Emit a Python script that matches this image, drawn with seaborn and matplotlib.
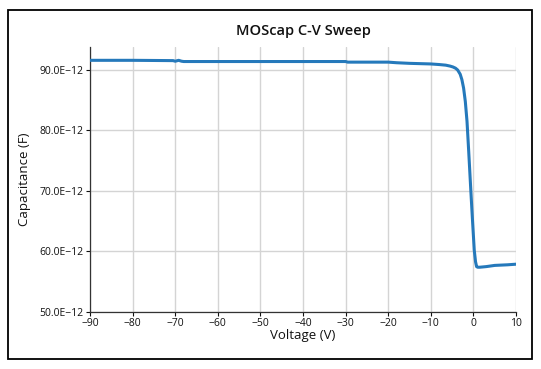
import matplotlib.pyplot as plt
import matplotlib.ticker as mticker
from matplotlib.patches import Rectangle
import pandas as pd
import seaborn as sns

# C-V sweep (capacitance in pF)
voltage = [-90, -80, -70.5, -70, -69.2, -68.5, -68, -60, -50, -40, -30, -29.5,
           -20, -18, -15, -10, -8, -6.5, -5.5, -4.8, -4.2, -3.7, -3.1, -2.7, -2.3,
           -1.9, -1.5, -1.1, -0.6, -0.2, 0.2, 0.5, 0.75, 1.0, 1.5, 3, 5, 8, 10]
cap_pf = [91.6, 91.6, 91.55, 91.45, 91.6, 91.45, 91.4, 91.4, 91.4, 91.4, 91.4, 91.3,
          91.3, 91.2, 91.1, 91.0, 90.9, 90.8, 90.65, 90.5, 90.3, 90.0, 89.3, 88.4, 87.0,
          84.8, 81.5, 76.5, 70.0, 65.0, 60.2, 58.3, 57.5, 57.4, 57.4, 57.5, 57.7, 57.8, 57.9]
x_ticks = list(range(-90, 11, 10))
y_ticks = [50e-12, 60e-12, 70e-12, 80e-12, 90e-12]

df = pd.DataFrame({'Voltage': voltage, 'Capacitance': [c * 1e-12 for c in cap_pf]})

sns.set_style('white')
plt.rcParams['font.family'] = ['Open Sans', 'DejaVu Sans']

fig = plt.figure(figsize=(5.41, 3.69), dpi=100)
ax = fig.add_axes([0.1664, 0.1545, 0.7874, 0.7181])

sns.lineplot(data=df, x='Voltage', y='Capacitance', ax=ax, color='#2579bb',
             linewidth=2.2, zorder=3)

ax.set_xlim(-90, 10)
ax.set_ylim(50e-12, 93.8e-12)
ax.set_xticks(x_ticks)
ax.set_yticks(y_ticks)
ax.xaxis.set_major_formatter(mticker.FuncFormatter(lambda v, p: f"{v:.0f}".replace('-', '\u2212')))
ax.yaxis.set_major_formatter(mticker.FuncFormatter(lambda v, p: f"{v*1e12:.1f}E\u221212"))
ax.grid(True, color='#d4d4d4', linewidth=1.0)
ax.tick_params(axis='both', labelsize=7.5, length=3, width=0.8, colors='#111111', pad=1.5,
               direction='out')
ax.tick_params(axis='y', left=True)
ax.tick_params(axis='x', bottom=True)
for s in ['top', 'right']:
    ax.spines[s].set_visible(False)
for s in ['left', 'bottom']:
    ax.spines[s].set_color('#333333')
    ax.spines[s].set_linewidth(0.9)

ax.set_title('MOScap C-V Sweep', fontsize=10.5, fontweight='semibold', pad=9, color='#111111')
ax.set_xlabel('Voltage (V)', fontsize=9.5, labelpad=0, color='#111111')
ax.set_ylabel('Capacitance (F)', fontsize=9.5, labelpad=6, color='#111111')

fig.patches.append(Rectangle((8 / 541, 10 / 369), 524 / 541, 349 / 369,
                             transform=fig.transFigure, fill=False,
                             edgecolor='black', linewidth=1.3))

fig.savefig('out.png', dpi=100)
